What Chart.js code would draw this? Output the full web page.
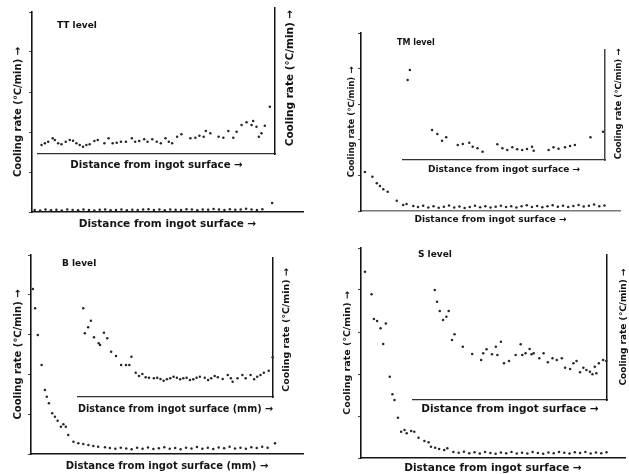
<!DOCTYPE html>
<html><head><meta charset="utf-8">
<script src="https://cdn.jsdelivr.net/npm/chart.js@4"></script>
<style>
html,body{margin:0;padding:0;background:#fff;overflow:hidden;width:629px;height:474px;position:relative;}
.lbl{position:absolute;font-family:"DejaVu Sans",sans-serif;font-weight:bold;color:#111;white-space:nowrap;line-height:1;}
.rot{transform:translate(-50%,-50%) rotate(-90deg);}
.hor{transform:translateY(-50%);}
</style></head><body>
<script>
// ---------- DATA (x: distance from ingot surface, y: cooling rate; arbitrary units, 0-100 of axis) ----------
const panelNames = ['TT level', 'TM level', 'B level', 'S level'];
const xTitle = 'Distance from ingot surface →';
const xTitleMM = 'Distance from ingot surface (mm) →';
const yTitle = 'Cooling rate (℃/min) →';

const ttMain = [[1,1.0],[3,0.8],[5,1.2],[7,0.9],[9,1.1],[11,0.8],[13,1.2],[15,1.0],[17,0.9],[19,1.3],[21,1.0],[23,0.8],[25,1.1],[27,1.2],[29,0.9],[31,1.0],[33,1.3],[35,0.9],[37,1.1],[39,1.0],[41,1.2],[43,1.4],[45,1.0],[47,1.2],[49,0.9],[51,1.3],[53,1.1],[55,1.0],[57,1.4],[59,1.2],[61,0.9],[63,1.3],[65,1.1],[67,1.5],[69,1.2],[71,1.0],[73,1.4],[75,1.1],[77,1.3],[79,1.6],[81,1.2],[83,1.0],[85,1.4],[88.6,4.5]];
const ttInset = [[1.5,6.2],[2.9,7.3],[4.3,8.4],[6.2,10.8],[7.1,9.6],[8.5,7.3],[9.9,6.6],[11.7,8.4],[13.4,9.6],[14.8,9.1],[16.2,7.3],[17.6,6.2],[19.0,5.0],[20.4,6.2],[21.8,6.6],[23.8,8.9],[25.2,9.6],[28.0,7.3],[29.8,10.8],[31.5,7.3],[33.2,7.7],[35.0,8.4],[37.1,8.4],[39.6,10.8],[41.0,8.4],[42.7,8.9],[44.8,10.1],[46.2,8.4],[48.2,10.1],[50.1,8.4],[51.8,7.3],[53.8,10.8],[55.2,8.4],[56.6,7.3],[58.7,11.8],[60.5,13.5],[64.3,10.8],[66.4,11.2],[68.1,12.5],[69.9,11.8],[70.8,15.8],[72.7,14.2],[76.2,11.8],[78.2,11.2],[80.3,15.8],[82.4,11.2],[83.8,15.3],[85.9,19.9],[88.0,21.7],[90.1,19.9],[90.8,22.6],[92.2,18.7],[93.2,11.8],[94.3,14.2],[95.7,19.4],[97.8,32.4]];

const tmMain = [[1.5,21.9],[4.4,19.3],[6.1,15.6],[7.3,14.0],[8.6,12.2],[10.3,10.8],[13.8,5.8],[16.3,3.4],[17.6,3.9],[20.2,2.8],[22,2.2],[24,3.0],[26,2.0],[28,2.6],[30,1.8],[32,2.4],[34,3.1],[36,2.0],[38,2.5],[40,1.7],[42,2.3],[44,2.9],[46,2.1],[48,2.6],[50,1.9],[52,2.4],[54,3.0],[56,2.2],[58,2.7],[60,2.0],[62,2.6],[64,3.2],[66,2.3],[68,2.8],[70,2.1],[72,2.7],[74,3.3],[76,2.4],[78,2.9],[80,2.2],[82,2.8],[84,3.4],[86,2.5],[88,3.0],[90,3.6],[92,2.7],[94,3.1]];
const tmInset = [[3.4,81.8],[2.3,72.7],[14.4,27.3],[17.0,23.6],[19.3,17.5],[21.4,20.6],[27.1,13.6],[29.6,14.5],[32.8,15.7],[34.5,12.1],[36.9,10.6],[39.4,7.5],[46.7,14.3],[49.2,10.6],[51.6,9.1],[54.1,11.5],[56.5,9.7],[59.0,9.1],[61.4,10.0],[63.9,12.1],[64.7,8.5],[72.1,9.1],[74.5,11.5],[77.0,10.3],[80.2,11.5],[82.7,12.7],[85.1,13.6],[92.8,20.6],[99.0,25.7]];

const bMain = [[0.7,82.9],[1.5,73.2],[2.5,59.8],[3.9,44.7],[5.1,32.2],[5.8,28.8],[6.6,25.5],[7.8,20.5],[8.8,18.7],[9.8,16.7],[11.0,13.7],[11.9,14.9],[12.8,13.7],[13.7,9.5],[15.6,6.2],[17.4,5.4],[19.2,5.0],[21.1,4.5],[22.9,4.0],[24.7,3.7],[27.2,3.4],[29,3.0],[31,2.6],[33,3.2],[35,2.8],[37,2.4],[39,3.1],[41,2.7],[43,3.3],[45,2.5],[47,2.9],[49,3.4],[51,2.6],[53,3.0],[55,2.4],[57,3.2],[59,2.8],[61,3.5],[63,2.7],[65,3.1],[67,2.5],[69,3.3],[71,2.9],[73,3.6],[75,2.8],[77,3.2],[79,2.6],[81,3.4],[83,3.0],[85,3.7],[87,3.1],[89.7,5.4]];
const bInset = [[2.7,63.8],[3.5,45.8],[5.2,50.1],[6.6,54.9],[8.2,42.9],[10.6,38.6],[11.3,37.4],[13.3,46.3],[15.0,42.2],[17.0,32.6],[19.5,29.5],[22.1,23.0],[24.6,23.0],[26.3,23.0],[27.4,29.0],[29.6,17.5],[31.3,15.1],[33.0,16.5],[34.7,14.2],[36.4,13.9],[38.9,13.5],[40.6,13.9],[42.3,12.9],[43.9,11.7],[45.6,12.7],[47.3,13.5],[49.0,14.6],[50.7,13.9],[52.4,12.7],[54.0,13.5],[55.7,13.9],[57.4,12.2],[59.1,12.7],[60.8,13.9],[62.5,14.6],[65.0,13.9],[66.7,12.2],[68.3,13.5],[70.1,15.1],[71.7,14.2],[74.2,12.9],[76.8,15.8],[78.4,13.5],[79.3,11.0],[81.8,13.5],[84.3,15.8],[86.0,13.5],[88.5,15.8],[90.3,12.7],[91.9,14.6],[93.6,15.8],[95.3,17.5],[97.8,18.9],[99.8,28.6]];

const sMain = [[1.5,88.7],[4.0,78.0],[4.9,66.2],[6.1,65.2],[7.4,61.8],[8.4,54.3],[9.4,64.1],[10.9,38.7],[11.9,30.3],[12.7,27.6],[14.0,19.2],[15.2,12.5],[16.5,13.3],[17.3,11.8],[19.0,12.9],[20.2,12.5],[21.8,9.7],[24.0,8.1],[25.6,7.5],[26.5,5.4],[28.1,4.9],[29.6,4.3],[31.5,3.8],[32.7,4.6],[35,2.9],[37,2.5],[39,3.0],[41,2.3],[43,2.7],[45,2.2],[47,2.8],[49,2.4],[51,2.0],[53,2.6],[55,2.3],[57,2.9],[59,2.1],[61,2.5],[63,2.2],[65,2.8],[67,2.4],[69,2.0],[71,2.6],[73,2.3],[75,2.9],[77,2.5],[79,2.1],[81,2.7],[83,2.4],[85,2.8],[87,2.2],[89,2.6],[91,2.3],[93,2.7]];
const sInset = [[11.2,75.9],[12.4,67.8],[13.8,61.4],[15.5,55.2],[17.2,57.4],[18.4,61.4],[20.1,41.4],[21.4,45.3],[25.7,36.8],[30.5,31.7],[35.1,27.6],[36.2,32.2],[37.9,35.0],[40.7,31.5],[42.7,36.8],[43.5,31.0],[45.3,40.2],[46.9,25.3],[49.5,26.9],[52.9,31.0],[55.5,38.4],[56.3,31.0],[58.0,32.2],[60.1,35.2],[61.1,31.5],[62.2,32.2],[65.1,28.8],[67.3,32.2],[69.5,26.0],[71.9,28.8],[74.1,27.6],[76.7,28.8],[78.4,22.3],[81.0,21.4],[82.7,25.3],[84.3,26.9],[86.1,19.1],[87.8,22.3],[89.4,20.7],[91.2,19.5],[92.5,17.7],[93.7,23.0],[94.5,18.4],[95.8,25.3],[98.0,27.6],[99.6,26.9]];

// ---------- RENDERING ----------
const FONT = '"DejaVu Sans", sans-serif';
const INK = '#151515';
function pts(arr){ return arr.map(p => ({x: p[0], y: p[1]})); }
function addCanvas(left, top, w, h){
  const c = document.createElement('canvas');
  c.width = w; c.height = h;
  c.style.cssText = 'position:absolute;left:' + left + 'px;top:' + top + 'px;width:' + w + 'px;height:' + h + 'px';
  document.body.appendChild(c);
  return c;
}
function label(text, x, y, fs, rotated){
  const d = document.createElement('div');
  d.className = 'lbl ' + (rotated ? 'rot' : 'hor');
  d.textContent = text;
  d.style.left = x + 'px'; d.style.top = y + 'px'; d.style.fontSize = fs + 'px';
  document.body.appendChild(d);
}
function ds(data){
  return {data: pts(data), pointRadius: 1.25, pointBackgroundColor: '#262626', pointBorderWidth: 0, clip: false};
}
const baseOpts = {responsive:false, animation:false, devicePixelRatio:1,
  plugins:{legend:{display:false}, tooltip:{enabled:false}}};

function mainPanel(g, data, xt){
  const wy = Math.round(g.ax - g.ytx + 0.6*g.ytfs);
  const hx = Math.round(g.xty - g.ay + 0.6*g.xtfs);
  const left = g.ax - wy, top = g.ty - g.pt;
  const w = g.rx + g.pr - left, h = g.ay + hx - top;
  const cv = addCanvas(left, top, w, h);
  new Chart(cv, {type:'scatter', data:{datasets:[ds(data)]},
    options:Object.assign({}, baseOpts, {
      layout:{padding:{left:0, top:g.pt, right:g.pr, bottom:0}},
      scales:{
        x:{type:'linear', min:0, max:100, position:'bottom',
           ticks:{display:false}, grid:{display:false},
           border:{display:true, color:g.xc || INK, width:1.5, dash:g.xdash || []},
           title:{display:true, text:xt, padding:0, color:INK, font:{family:FONT, size:g.xtfs, weight:'bold'}},
           afterFit(s){ s.height = hx; }},
        y:{type:'linear', min:0, max:100, position:'left',
           ticks:{display:false, stepSize:20},
           grid:{display:true, drawOnChartArea:false, drawTicks:true, tickLength:3, color:'#444'},
           border:{display:true, color:g.yc || INK, width:1.6},
           title:{display:true, text:yTitle, padding:0, color:INK, font:{family:FONT, size:g.ytfs, weight:'bold'}},
           afterFit(s){ s.width = wy; }}
      }})
  });
}
function insetPanel(g, data, xt){
  const wr = 2;
  const hx = Math.round(g.xty - g.iy + 0.6*g.xtfs);
  const left = g.il - g.pl, top = g.it - g.pt;
  const w = g.ix + wr - left, h = g.iy + hx - top;
  const cv = addCanvas(left, top, w, h);
  new Chart(cv, {type:'scatter', data:{datasets:[ds(data)]},
    options:Object.assign({}, baseOpts, {
      layout:{padding:{left:g.pl, top:g.pt, right:0, bottom:0}},
      scales:{
        x:{type:'linear', min:0, max:100, position:'bottom',
           ticks:{display:false}, grid:{display:false},
           border:{display:true, color:'#333', width:1.3, dash:[3,2]},
           title:{display:true, text:xt, padding:0, color:INK, font:{family:FONT, size:g.xtfs, weight:'bold'}},
           afterFit(s){ s.height = hx; }},
        y:{type:'linear', min:0, max:100, position:'right',
           ticks:{display:false}, grid:{display:false},
           border:{display:true, color:g.yc || INK, width:1.5, dash:g.ydash || []},
           afterFit(s){ s.width = wr; }}
      }})
  });
  label(yTitle, g.rlx, g.rly, g.rlfs, true);
}

// Panel TT
mainPanel({ax:32, ty:12, rx:303, ay:212, ytx:18, ytfs:10, xty:225, xtfs:10.5, pt:4, pr:4}, ttMain, xTitle);
insetPanel({il:38, it:8, ix:277, iy:154, xty:165, xtfs:10.2, pl:4, pt:4, rlx:289, rly:78, rlfs:10.5}, ttInset, xTitle);
label(panelNames[0], 57, 25, 9, false);

// Panel TM
mainPanel({ax:361, ty:33, rx:620, ay:211, ytx:352, ytfs:8.5, xty:220, xtfs:9, pt:4, pr:4, xc:'#777', xdash:[2,2]}, tmMain, xTitle);
insetPanel({il:403, it:50, ix:607, iy:160, xty:170, xtfs:9, pl:4, pt:4, rlx:618, rly:104, rlfs:8.5, yc:'#444', ydash:[4,2]}, tmInset, xTitle);
label(panelNames[1], 397, 43, 8, false);

// Panel B
mainPanel({ax:31, ty:255, rx:303, ay:454, ytx:18, ytfs:10, xty:466, xtfs:10, pt:4, pr:4}, bMain, xTitleMM);
insetPanel({il:78, it:258, ix:275, iy:397, xty:409, xtfs:10, pl:4, pt:4, rlx:286, rly:330, rlfs:9.5}, bInset, xTitleMM);
label(panelNames[2], 62, 263, 9, false);

// Panel S
mainPanel({ax:361, ty:248, rx:628, ay:458, ytx:348, ytfs:9.5, xty:469, xtfs:10.5, pt:4, pr:1}, sMain, xTitle);
insetPanel({il:413, it:255, ix:609, iy:400, xty:410, xtfs:10.5, pl:4, pt:4, rlx:623, rly:327, rlfs:9}, sInset, xTitle);
label(panelNames[3], 418, 254, 9, false);
</script>
</body></html>
